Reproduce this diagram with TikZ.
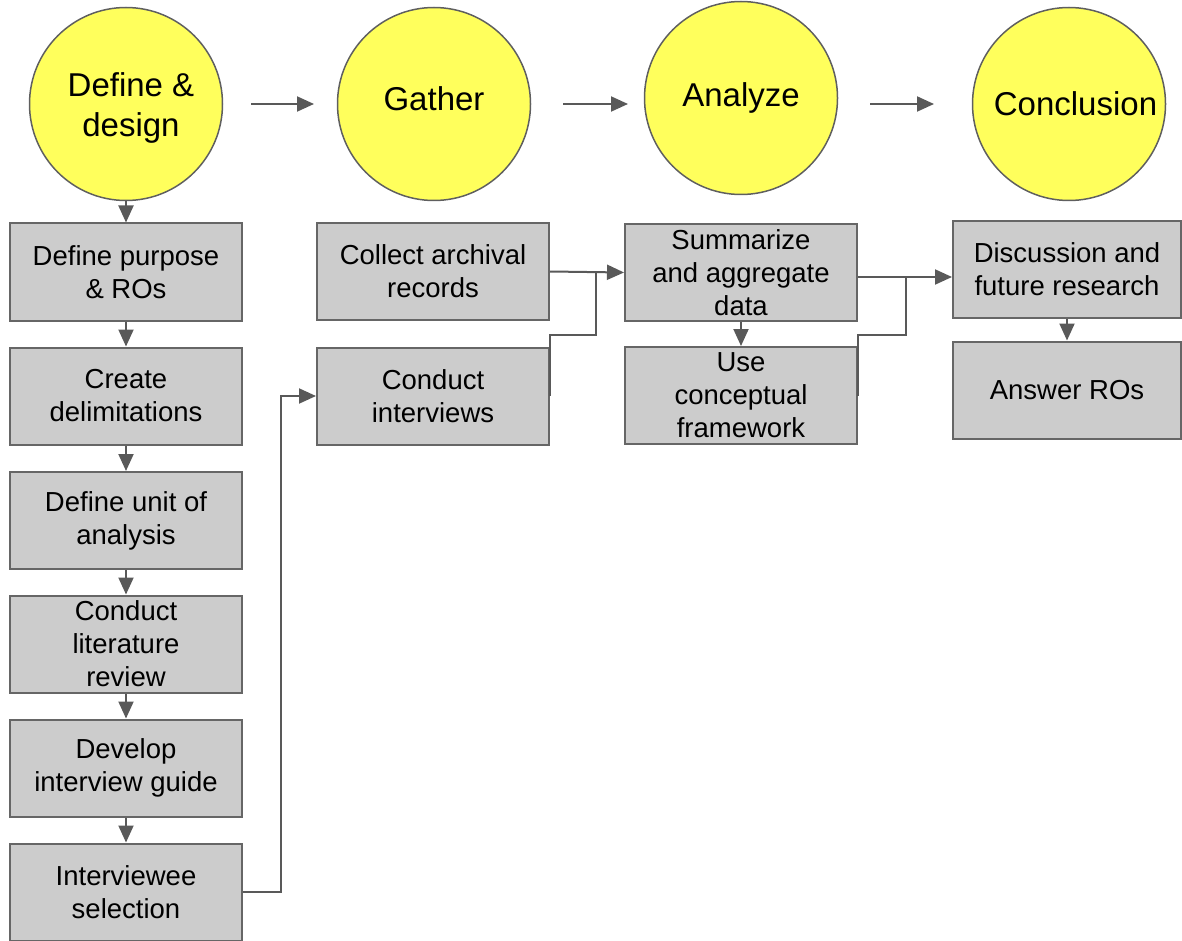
\documentclass[tikz,border=0pt]{standalone}
\usepackage{fontspec}
\setmainfont{Liberation Sans}
\usetikzlibrary{arrows.meta}
\definecolor{boxfill}{HTML}{CCCCCC}
\definecolor{boxline}{HTML}{666666}
\definecolor{phasefill}{HTML}{FFFF5C}
\definecolor{phaseline}{HTML}{5F5F5F}
\definecolor{conn}{HTML}{595959}

\begin{document}
\begin{tikzpicture}[x=1pt,y=-1pt,
  phase/.style={circle, draw=phaseline, line width=1.5pt, fill=phasefill,
    minimum size=193pt, inner sep=0pt, align=center,
    font=\fontsize{33}{40}\selectfont},
  stepbox/.style={rectangle, draw=boxline, line width=2pt, fill=boxfill,
    minimum width=232pt, minimum height=97pt, inner sep=0pt, align=center,
    font=\fontsize{27.5}{33}\selectfont},
  arr/.style={draw=conn, line width=2pt, -{Triangle[length=17pt,width=15pt]}},
  link/.style={draw=conn, line width=2pt}]
\useasboundingbox (0,0) rectangle (1182,941);

% phase circles
\node[phase] (define) at (126,104)
  {\raisebox{-5pt}[\height][\depth]{\hspace*{10pt}\begin{tabular}{@{}c@{}}Define \&\\design\end{tabular}}};
\node[phase] (gather) at (434,104) {\raisebox{11pt}{Gather}};
\node[phase] (analyze) at (741,98) {Analyze};
\node[phase] (concl) at (1069,104) {\hspace*{13pt}Conclusion};

% arrows between phases
\coordinate (p1s) at (251,104); \coordinate (p1e) at (314,104);
\coordinate (p2s) at (563,104); \coordinate (p2e) at (628,104);
\coordinate (p3s) at (870,104); \coordinate (p3e) at (934,104);
\draw[arr] (p1s) -- (p1e);
\draw[arr] (p2s) -- (p2e);
\draw[arr] (p3s) -- (p3e);

% define & design steps
\node[stepbox] (purpose) at (126,272) {Define purpose\\\& ROs};
\node[stepbox] (delim) at (126,396) {Create\\delimitations};
\node[stepbox] (unit) at (126,520.5) {Define unit of\\analysis};
\node[stepbox] (lit) at (126,644) {Conduct\\literature\\review};
\node[stepbox] (guide) at (126,768) {Develop\\interview guide};
\node[stepbox] (select) at (126,892) {Interviewee\\selection};

% gather steps
\node[stepbox] (collect) at (433,271.5) {Collect archival\\records};
\node[stepbox] (interv) at (433,396) {Conduct\\interviews};

% analyze steps
\node[stepbox] (summ) at (741,272.5) {Summarize\\and aggregate\\data};
\node[stepbox] (frame) at (741,395.5) {Use\\conceptual\\framework};

% conclusion steps
\node[stepbox, minimum width=228pt] (disc) at (1067,269.5) {Discussion and\\future research};
\node[stepbox, minimum width=228pt] (answer) at (1067,390) {Answer ROs};

% vertical flow
\draw[arr] (define) -- (purpose);
\draw[arr] (purpose) -- (delim);
\draw[arr] (delim) -- (unit);
\draw[arr] (unit) -- (lit);
\draw[arr] (lit) -- (guide);
\draw[arr] (guide) -- (select);
\draw[arr] (summ) -- (frame);
\draw[arr] (disc) -- (answer);

% interviewee selection feeds the interviews
\draw[arr] (select.east) -- ++(38,0) |- (interv.west);

% gather -> analyze
\draw[arr] (collect.east) -- (summ.west);
\coordinate (j1) at (596,335);
\draw[link] (interv.east) |- (j1) -- (j1 |- collect.east);

% analyze -> conclusion
\coordinate (m2) at (906,277);
\coordinate (j2) at (906,335);
\draw[arr] (summ.east |- m2) -- (disc.west |- m2);
\draw[link] (frame.east) |- (j2) -- (m2);
\end{tikzpicture}
\end{document}
